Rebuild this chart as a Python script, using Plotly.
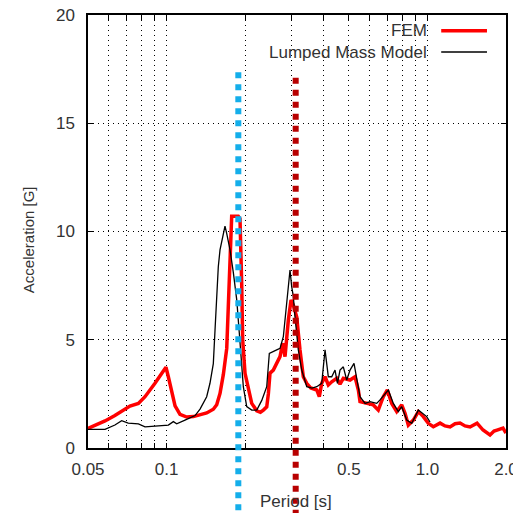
import plotly.graph_objects as go

# ---- data ----
fem_period = [0.0500, 0.0532, 0.0581, 0.0634, 0.0693, 0.0724, 0.0780, 0.0827, 0.0903, 0.0960,
              0.0995, 0.1016, 0.1078, 0.1126, 0.1195, 0.1267, 0.1344, 0.1425, 0.1511, 0.1557,
              0.1603, 0.1651, 0.1701, 0.1725, 0.1751, 0.1762, 0.1777, 0.1884, 0.1912, 0.1941,
              0.1958, 0.1999, 0.2058, 0.2121, 0.2217, 0.2290, 0.2350, 0.2421, 0.2456, 0.2492,
              0.2566, 0.2722, 0.2788, 0.2845, 0.2929, 0.3000, 0.3061, 0.3154, 0.3247, 0.3343,
              0.3446, 0.3572, 0.3764, 0.3851, 0.3933, 0.4050, 0.4169, 0.4296, 0.4491, 0.4622,
              0.4759, 0.5049, 0.5276, 0.5434, 0.5514, 0.5850, 0.6200, 0.6480, 0.6774, 0.7020,
              0.7295, 0.7625, 0.7969, 0.8204, 0.8446, 0.8830, 0.9226, 0.9640, 1.0076, 1.0530,
              1.1174, 1.1680, 1.2206, 1.2760, 1.3330, 1.3930, 1.4560, 1.5490, 1.6330, 1.7370,
              1.8000, 1.8480, 1.9480, 2.0000]
fem_accel = [0.90, 1.04, 1.25, 1.50, 1.80, 1.94, 2.06, 2.37, 2.99, 3.45,
             3.73, 3.29, 1.95, 1.55, 1.43, 1.45, 1.55, 1.62, 1.79, 2.00,
             2.52, 3.40, 4.60, 6.84, 9.15, 10.5, 10.7, 10.7, 10.6, 7.60,
             5.00, 3.45, 2.68, 2.06, 1.72, 1.65, 1.75, 1.90, 2.50, 3.46,
             3.60, 4.22, 4.84, 4.22, 5.90, 6.84, 6.60, 6.06, 4.53, 3.29,
             2.99, 2.77, 2.68, 2.37, 2.99, 3.29, 2.91, 3.06, 3.22, 2.95,
             3.22, 3.14, 3.29, 2.68, 2.14, 2.06, 1.99, 1.75, 2.37, 2.68,
             2.06, 1.68, 1.99, 1.60, 1.06, 1.29, 1.68, 1.45, 1.14, 0.98,
             1.15, 1.02, 0.97, 1.12, 1.15, 1.02, 0.97, 1.15, 0.83, 0.60,
             0.78, 0.83, 0.92, 0.69]

lmm_period = [0.0500, 0.0581, 0.0634, 0.0673, 0.0713, 0.0780, 0.0827, 0.0877, 0.0958, 0.1016,
              0.1062, 0.1094, 0.1177, 0.1286, 0.1344, 0.1425, 0.1467, 0.1511, 0.1534, 0.1579,
              0.1603, 0.1651, 0.1675, 0.1701, 0.1751, 0.1803, 0.1858, 0.1901, 0.1941, 0.1969,
              0.2029, 0.2121, 0.2217, 0.2317, 0.2421, 0.2477, 0.2644, 0.2722, 0.2803, 0.2888,
              0.2929, 0.2973, 0.3018, 0.3061, 0.3107, 0.3199, 0.3297, 0.3446, 0.3611, 0.3764,
              0.3933, 0.4050, 0.4169, 0.4296, 0.4423, 0.4520, 0.4622, 0.4759, 0.4904, 0.5049,
              0.5230, 0.5356, 0.5514, 0.5767, 0.6021, 0.6391, 0.6580, 0.7079, 0.7400, 0.7731,
              0.7969, 0.8331, 0.8705, 0.9226, 0.9934, 1.0228]
lmm_accel = [0.86, 0.86, 1.06, 1.26, 1.15, 1.11, 0.98, 1.00, 1.06, 1.06,
             1.22, 1.12, 1.29, 1.50, 1.80, 2.37, 2.99, 3.90, 5.45, 8.37,
             9.15, 9.92, 10.25, 9.90, 9.15, 8.10, 6.84, 5.30, 3.75, 2.83,
             1.91, 1.75, 1.75, 2.20, 2.83, 4.37, 4.53, 4.60, 5.14, 6.84,
             7.50, 8.22, 7.45, 7.00, 6.06, 4.53, 3.60, 2.83, 2.77, 2.83,
             2.99, 4.53, 3.29, 3.29, 3.60, 2.99, 3.60, 3.75, 3.14, 3.60,
             3.91, 3.14, 2.37, 2.06, 2.14, 2.06, 2.22, 2.68, 2.06, 1.68,
             1.91, 1.29, 1.14, 1.75, 1.45, 1.20]

mode_periods = [0.1884, 0.3126]
mode_colors = ["#14AEEA", "#B80000"]
mode_tops = [0.868, 0.855]

x_tickvals = [0.05, 0.06, 0.07, 0.08, 0.09, 0.1, 0.2, 0.3, 0.4, 0.5, 0.6, 0.7, 0.8, 0.9, 1.0, 2.0]
x_ticktext = ["0.05", "", "", "", "", "0.1", "", "", "", "0.5", "", "", "", "", "1.0", "2.0"]
y_tickvals = [0, 5, 10, 15, 20]

series_names = ["FEM", "Lumped Mass Model"]
x_title = "Period [s]"
y_title = "Acceleration [G]"

FONT = "Liberation Sans, Arial, sans-serif"
TXT = "#333333"

fig = go.Figure()
fig.add_trace(go.Scatter(x=fem_period, y=fem_accel, mode="lines", name=series_names[0],
                         line=dict(color="#FF0000", width=3.5), showlegend=False))
fig.add_trace(go.Scatter(x=lmm_period, y=lmm_accel, mode="lines", name=series_names[1],
                         line=dict(color="#000000", width=1.3), showlegend=False))

for p, c, top in zip(mode_periods, mode_colors, mode_tops):
    fig.add_shape(type="line", xref="x", yref="paper", x0=p, x1=p, y0=top, y1=-0.2,
                  line=dict(color=c, width=6, dash="6px,6px"), layer="above")

# manual gnuplot-style legend (text left, sample on right)
legend_y = [0.9637, 0.9145]
legend_colors = ["#FF0000", "#000000"]
legend_widths = [3.5, 1.3]
for name, yy, c, w in zip(series_names, legend_y, legend_colors, legend_widths):
    fig.add_annotation(xref="paper", yref="paper", x=0.815, y=yy, text=name, showarrow=False,
                       xanchor="right", yanchor="middle", font=dict(family=FONT, size=17, color=TXT))
    fig.add_shape(type="line", xref="paper", yref="paper", x0=0.845, x1=0.9545, y0=yy, y1=yy,
                  line=dict(color=c, width=w))

# axis titles
fig.add_annotation(xref="paper", yref="paper", x=0.4976, y=-0.1247, text=x_title, showarrow=False,
                   xanchor="center", yanchor="middle", font=dict(family=FONT, size=17, color=TXT))
fig.add_annotation(xref="paper", yref="paper", x=-0.1435, y=0.480, text=y_title, showarrow=False,
                   textangle=-90, xanchor="center", yanchor="middle",
                   font=dict(family=FONT, size=15, color=TXT))

fig.update_xaxes(type="log", range=[-1.30103, 0.30103], automargin=False,
                 tickvals=x_tickvals, ticktext=x_ticktext, ticklabeloverflow="allow",
                 showgrid=True, gridcolor="#000000", gridwidth=1, griddash="1px,4px",
                 showline=True, linecolor="#000000", linewidth=1.5, mirror="ticks",
                 ticks="inside", ticklen=5, tickcolor="#000000", ticklabelstandoff=5,
                 tickfont=dict(family=FONT, size=17, color=TXT),
                 zeroline=False)
fig.update_yaxes(range=[0, 20], tickvals=y_tickvals, automargin=False, ticklabeloverflow="allow",
                 showgrid=True, gridcolor="#000000", gridwidth=1, griddash="1px,4px",
                 showline=True, linecolor="#000000", linewidth=1.5, mirror="ticks",
                 ticks="inside", ticklen=5, tickcolor="#000000", ticklabelstandoff=8,
                 tickfont=dict(family=FONT, size=17, color=TXT),
                 zeroline=False)

fig.update_layout(width=513, height=513, margin=dict(l=88, r=7, t=15, b=65),
                  paper_bgcolor="white", plot_bgcolor="white", showlegend=False)

# remove the default page margin so the 513x513 figure fills the window exactly
fig.write_html("out.html", config={"displayModeBar": False},
               post_script="document.body.style.margin='0';")
